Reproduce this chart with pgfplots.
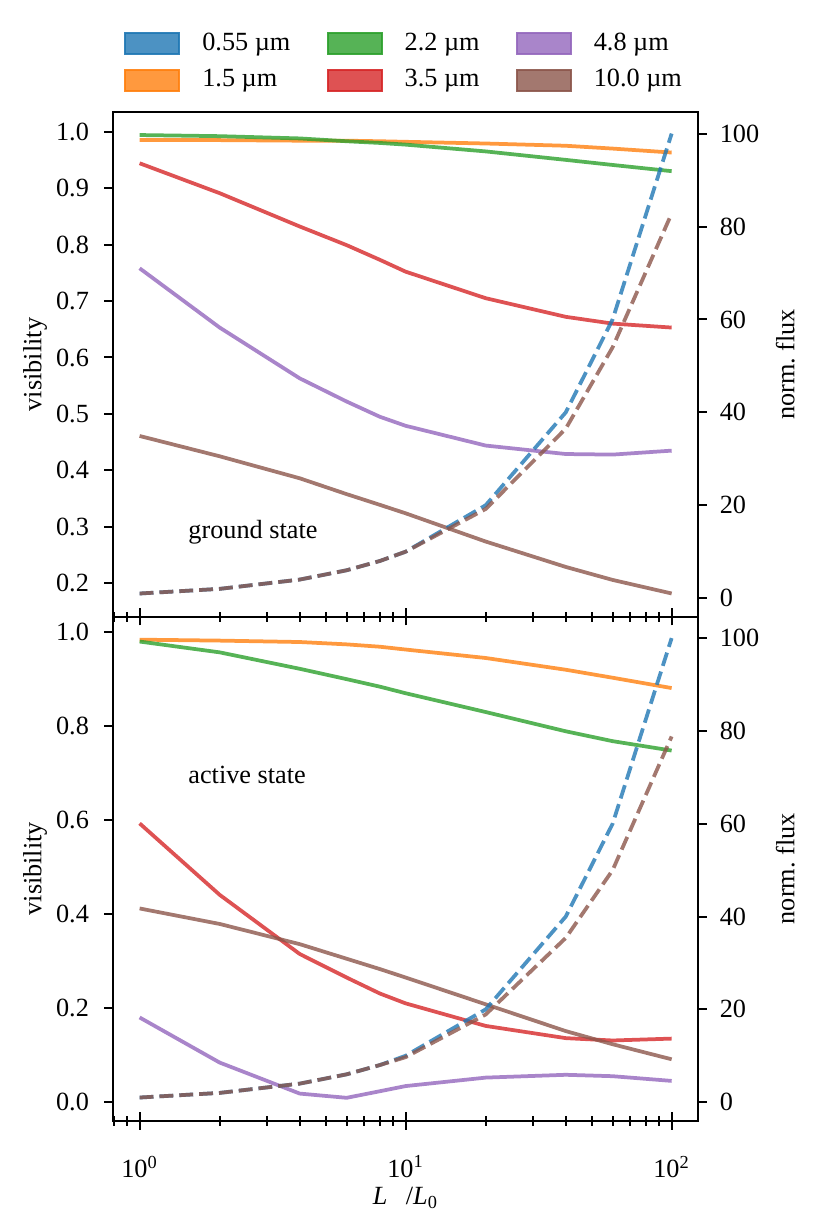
\documentclass[border=0pt]{standalone}
\usepackage{pgfplots}
\pgfplotsset{compat=1.18}
\usepackage{fontspec}
\setmainfont{Liberation Serif}

\definecolor{C0}{HTML}{1F77B4}
\definecolor{C1}{HTML}{FF7F0E}
\definecolor{C2}{HTML}{2CA02C}
\definecolor{C3}{HTML}{D62728}
\definecolor{C4}{HTML}{9467BD}
\definecolor{C5}{HTML}{8C564B}

\newcommand{\fs}{\fontsize{10.5}{12.6}\selectfont}

\pgfplotstableread{
x     orange green red   purple brown
1     0.985  0.994 0.944 0.758  0.461
2     0.985  0.992 0.891 0.653  0.425
4     0.984  0.988 0.832 0.563  0.386
6     0.984  0.983 0.799 0.522  0.358
8     0.983  0.980 0.773 0.495  0.339
10    0.982  0.977 0.752 0.479  0.324
20    0.979  0.965 0.705 0.444  0.274
40    0.975  0.950 0.672 0.429  0.229
60    0.970  0.941 0.660 0.428  0.206
100   0.963  0.930 0.653 0.435  0.182
}\topvis

\pgfplotstableread{
x     blue  brown
1     1     1
2     2     2
4     4     4
6     6     6
8     8     8
10    10    10
20    20    19.2
40    40    36.5
60    60    54
100   100   82.8
}\topflux

\pgfplotstableread{
x     orange green red   purple brown
1     0.984  0.980 0.593 0.180  0.412
2     0.982  0.957 0.441 0.084  0.379
4     0.979  0.922 0.315 0.018  0.336
6     0.974  0.900 0.265 0.009  0.305
8     0.969  0.884 0.231 0.023  0.283
10    0.963  0.870 0.210 0.034  0.265
20    0.945  0.830 0.162 0.052  0.208
40    0.920  0.789 0.136 0.058  0.151
60    0.903  0.768 0.131 0.055  0.123
100   0.881  0.748 0.135 0.045  0.091
}\botvis

\pgfplotstableread{
x     blue  brown
1     1     1
2     2     2
4     4     4
6     6     6
8     8     8
10    10    9.7
20    20    18.9
40    40    35.4
60    60    50
100   100   78.8
}\botflux

\tikzset{
  visline/.style={line width=1.5pt, draw opacity=0.8, line join=round},
  fluxline/.style={line width=1.5pt, draw opacity=0.8, dash pattern=on 5.55pt off 2.4pt},
}

\begin{document}
\begin{tikzpicture}
\path[use as bounding box] (0pt,0pt) rectangle (327.6pt,489.2pt);

% ================= TOP PANEL =================
\begin{axis}[
  at={(45.2pt,242.5pt)}, anchor=south west, width=234.1pt, height=201.8pt, scale only axis,
  xmode=log, xmin=0.7943282, xmax=125.89254,
  ymin=0.1408, ymax=1.0344, ytick={0.2,0.3,0.4,0.5,0.6,0.7,0.8,0.9,1.0},
  xtick=\empty, xminorticks=false,
  ytick pos=left, tick align=outside, major tick length=3.5pt,
  axis line style={line width=0.8pt, black},
  every tick/.style={black, line width=0.8pt},
  /pgf/number format/assume math mode=true,
  tick label style={font=\fs},
  yticklabel style={xshift=-2.6pt, /pgf/number format/.cd, fixed, fixed zerofill, precision=1},
  ylabel={visibility},
  every axis y label/.style={at={(axis description cs:-0.1333,0.5)}, rotate=90, anchor=center, font=\fs},
  clip=false,
  legend image code/.code={\draw[#1] (0pt,-4.2pt) rectangle (21.6pt,4.2pt);},
  legend columns=3,
  legend cell align=left,
  legend style={draw=none, fill=none, at={(0.5,1)}, anchor=south, yshift=4.4pt,
    font=\fs, row sep=2.2pt,
    /tikz/every odd column/.append style={column sep=6.8pt},
    /tikz/every even column/.append style={column sep=12.5pt}},
]
\addlegendimage{fill=C0, fill opacity=0.8, draw=C0, draw opacity=0.9, line width=0.8pt}
\addlegendentry{0.55 µm}
\addlegendimage{fill=C2, fill opacity=0.8, draw=C2, draw opacity=0.9, line width=0.8pt}
\addlegendentry{2.2 µm}
\addlegendimage{fill=C4, fill opacity=0.8, draw=C4, draw opacity=0.9, line width=0.8pt}
\addlegendentry{4.8 µm}
\addlegendimage{fill=C1, fill opacity=0.8, draw=C1, draw opacity=0.9, line width=0.8pt}
\addlegendentry{1.5 µm}
\addlegendimage{fill=C3, fill opacity=0.8, draw=C3, draw opacity=0.9, line width=0.8pt}
\addlegendentry{3.5 µm}
\addlegendimage{fill=C5, fill opacity=0.8, draw=C5, draw opacity=0.9, line width=0.8pt}
\addlegendentry{10.0 µm}
\addplot[visline, C1, forget plot] table[x=x, y=orange] {\topvis};
\addplot[visline, C2, forget plot] table[x=x, y=green] {\topvis};
\addplot[visline, C3, forget plot] table[x=x, y=red] {\topvis};
\addplot[visline, C4, forget plot] table[x=x, y=purple] {\topvis};
\addplot[visline, C5, forget plot] table[x=x, y=brown] {\topvis};
\node[anchor=west, font=\fs, inner sep=0pt] at (axis description cs:0.128,0.168) {ground state};
\end{axis}

\begin{axis}[
  at={(45.2pt,242.5pt)}, anchor=south west, width=234.1pt, height=201.8pt, scale only axis,
  xmode=log, xmin=0.7943282, xmax=125.89254, ymin=0, ymax=1,
  hide y axis,
  axis line style={line width=0.8pt, black},
  every tick/.style={black, line width=0.8pt},
  xtick={1,10,100}, xticklabels={},
  minor xtick={0.8,0.9,2,3,4,5,6,7,8,9,20,30,40,50,60,70,80,90},
  xtick pos=bottom, tick align=center,
  major tick length=7pt, minor tick length=4pt,
]
\end{axis}

\begin{axis}[
  at={(45.2pt,242.5pt)}, anchor=south west, width=234.1pt, height=201.8pt, scale only axis,
  xmode=log, xmin=0.7943282, xmax=125.89254,
  ymin=-4.0, ymax=104.6,
  axis x line=none, axis y line*=right,
  ytick={0,20,40,60,80,100},
  tick align=outside, major tick length=3.5pt,
  axis line style={line width=0.8pt, black},
  every tick/.style={black, line width=0.8pt},
  /pgf/number format/assume math mode=true,
  tick label style={font=\fs},
  yticklabel style={xshift=1.6pt},
  ylabel={norm.\ flux},
  every axis y label/.style={at={(axis description cs:1.1487,0.5)}, rotate=90, anchor=center, font=\fs},
  clip=false,
]
\addplot[fluxline, C0] table[x=x, y=blue] {\topflux};
\addplot[fluxline, C5] table[x=x, y=brown] {\topflux};
\end{axis}

% ================= BOTTOM PANEL =================
\begin{axis}[
  at={(45.2pt,40.9pt)}, anchor=south west, width=234.1pt, height=201.6pt, scale only axis,
  xmode=log, xmin=0.7943282, xmax=125.89254,
  ymin=-0.0398, ymax=1.0328, ytick={0,0.2,0.4,0.6,0.8,1.0},
  xtick=\empty, xminorticks=false,
  ytick pos=left, tick align=outside, major tick length=3.5pt,
  axis line style={line width=0.8pt, black},
  every tick/.style={black, line width=0.8pt},
  /pgf/number format/assume math mode=true,
  tick label style={font=\fs},
  yticklabel style={xshift=-2.6pt, /pgf/number format/.cd, fixed, fixed zerofill, precision=1},
  ylabel={visibility},
  every axis y label/.style={at={(axis description cs:-0.1333,0.5)}, rotate=90, anchor=center, font=\fs},
  clip=false,
]
\addplot[visline, C1] table[x=x, y=orange] {\botvis};
\addplot[visline, C2] table[x=x, y=green] {\botvis};
\addplot[visline, C3] table[x=x, y=red] {\botvis};
\addplot[visline, C4] table[x=x, y=purple] {\botvis};
\addplot[visline, C5] table[x=x, y=brown] {\botvis};
\node[anchor=west, font=\fs, inner sep=0pt] at (axis description cs:0.128,0.687) {active state};
\end{axis}

\begin{axis}[
  at={(45.2pt,40.9pt)}, anchor=south west, width=234.1pt, height=201.6pt, scale only axis,
  xmode=log, xmin=0.7943282, xmax=125.89254, ymin=0, ymax=1,
  hide y axis,
  axis line style={line width=0.8pt, black},
  every tick/.style={black, line width=0.8pt},
  xtick={1,10,100},
  xticklabels={10\textsuperscript{0},10\textsuperscript{1},10\textsuperscript{2}},
  minor xtick={0.8,0.9,2,3,4,5,6,7,8,9,20,30,40,50,60,70,80,90},
  xtick pos=bottom, tick align=center,
  major tick length=7pt, minor tick length=4pt,
  tick label style={font=\fs},
  xticklabel style={yshift=-7pt},
  xlabel={\textit{L}\hspace{0.7em}/\textit{L}\textsubscript{0}},
  every axis x label/.style={at={(axis description cs:0.5,-0.154)}, anchor=center, font=\fs},
]
\end{axis}

\begin{axis}[
  at={(45.2pt,40.9pt)}, anchor=south west, width=234.1pt, height=201.6pt, scale only axis,
  xmode=log, xmin=0.7943282, xmax=125.89254,
  ymin=-4.0, ymax=104.6,
  axis x line=none, axis y line*=right,
  ytick={0,20,40,60,80,100},
  tick align=outside, major tick length=3.5pt,
  axis line style={line width=0.8pt, black},
  every tick/.style={black, line width=0.8pt},
  /pgf/number format/assume math mode=true,
  tick label style={font=\fs},
  yticklabel style={xshift=1.6pt},
  ylabel={norm.\ flux},
  every axis y label/.style={at={(axis description cs:1.1487,0.5)}, rotate=90, anchor=center, font=\fs},
  clip=false,
]
\addplot[fluxline, C0] table[x=x, y=blue] {\botflux};
\addplot[fluxline, C5] table[x=x, y=brown] {\botflux};
\end{axis}
\end{tikzpicture}
\end{document}
